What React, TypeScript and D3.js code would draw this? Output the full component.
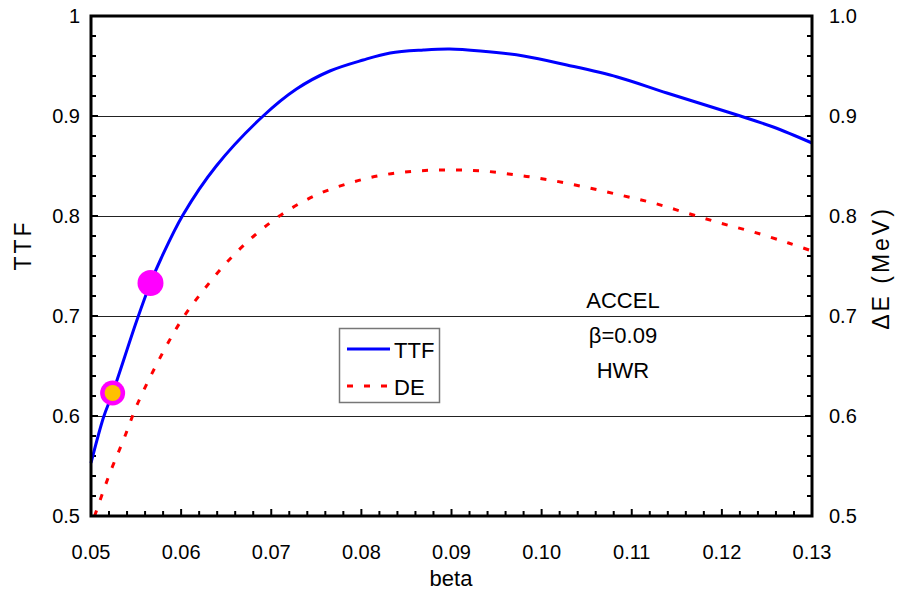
import React from "react";
import * as d3 from "d3";

const ttfBeta = [0.0500, 0.0514, 0.0524, 0.0551, 0.0566, 0.0578, 0.0602, 0.0639, 0.0691, 0.0728, 0.0765, 0.0802, 0.0832, 0.0869, 0.0898, 0.0932, 0.0980, 0.1028, 0.1084, 0.1139, 0.1217, 0.1257, 0.1300];
const ttfValues = [0.553, 0.599, 0.623, 0.696, 0.733, 0.758, 0.801, 0.850, 0.900, 0.927, 0.945, 0.956, 0.963, 0.966, 0.967, 0.965, 0.960, 0.951, 0.939, 0.923, 0.901, 0.889, 0.873];

const deBeta = [0.0504, 0.0521, 0.0536, 0.0552, 0.0580, 0.0602, 0.0625, 0.0651, 0.0682, 0.0714, 0.0750, 0.0787, 0.0824, 0.0861, 0.0898, 0.0935, 0.0972, 0.1009, 0.1048, 0.1087, 0.1124, 0.1161, 0.1198, 0.1235, 0.1274, 0.1300];
const deValues = [0.500, 0.543, 0.576, 0.613, 0.664, 0.698, 0.726, 0.754, 0.781, 0.803, 0.821, 0.833, 0.841, 0.845, 0.846, 0.845, 0.841, 0.836, 0.829, 0.821, 0.813, 0.803, 0.793, 0.784, 0.773, 0.765];

const markerBig = { beta: 0.0566, ttf: 0.733 };
const markerRing = { beta: 0.0524, ttf: 0.623 };

const xTickValues = [0.05, 0.06, 0.07, 0.08, 0.09, 0.10, 0.11, 0.12, 0.13];
const xTickLabels = ["0.05", "0.06", "0.07", "0.08", "0.09", "0.10", "0.11", "0.12", "0.13"];
const yTickValues = [0.5, 0.6, 0.7, 0.8, 0.9, 1.0];
const yLeftLabels = ["0.5", "0.6", "0.7", "0.8", "0.9", "1"];
const yRightLabels = ["0.5", "0.6", "0.7", "0.8", "0.9", "1.0"];
const gridValues = [0.6, 0.7, 0.8, 0.9];
const annotation = ["ACCEL", "β=0.09", "HWR"];

const W = 897, H = 595;
const L = 91, R = 812, T = 16, B = 516;
const FONT = "'Liberation Sans', Arial, sans-serif";

export default function App() {
  const x = d3.scaleLinear().domain([0.05, 0.13]).range([L, R]);
  const y = d3.scaleLinear().domain([0.5, 1.0]).range([B, T]);
  const yR = d3.scaleLinear().domain([0.5, 1.0]).range([B, T]);

  const line = d3.line<[number, number]>().x(d => x(d[0])).y(d => y(d[1])).curve(d3.curveCatmullRom.alpha(0.5));
  const ttfPath = line(ttfBeta.map((b, i) => [b, ttfValues[i]]) as [number, number][]) || "";
  const dePath = line(deBeta.map((b, i) => [b, deValues[i]]) as [number, number][]) || "";

  const xMinor = d3.range(0, 41).map(i => 0.05 + i * 0.002);
  const yMinor = d3.range(0, 26).map(i => 0.5 + i * 0.02);

  return (
    <svg width={W} height={H} style={{ position: "absolute", left: 0, top: 0, background: "#fff" }} fontFamily={FONT}>
      <rect x={0} y={0} width={W} height={H} fill="#fff" />
      {gridValues.map(v => (
        <line key={v} x1={L} x2={R} y1={y(v)} y2={y(v)} stroke="#222" strokeWidth={1} shapeRendering="crispEdges" />
      ))}
      {xMinor.map((v, i) => (
        <line key={"xm" + i} x1={x(v)} x2={x(v)} y1={B} y2={B - (i % 5 === 0 ? 7 : 5)} stroke="#000" strokeWidth={2} />
      ))}
      {yMinor.map((v, i) => (
        <g key={"ym" + i}>
          <line x1={L} x2={L + (i % 5 === 0 ? 7 : 5)} y1={y(v)} y2={y(v)} stroke="#000" strokeWidth={2} />
          <line x1={R} x2={R - (i % 5 === 0 ? 7 : 5)} y1={yR(v)} y2={yR(v)} stroke="#000" strokeWidth={2} />
        </g>
      ))}
      <path d={dePath} fill="none" stroke="#ff0000" strokeWidth={3} strokeDasharray="6,11" />
      <path d={ttfPath} fill="none" stroke="#0000ff" strokeWidth={3} />
      <circle cx={x(markerBig.beta)} cy={y(markerBig.ttf)} r={13} fill="#ff00ff" />
      <circle cx={x(markerRing.beta)} cy={y(markerRing.ttf)} r={12.5} fill="#ff00ff" />
      <circle cx={x(markerRing.beta)} cy={y(markerRing.ttf)} r={8} fill="#ffc000" />
      <rect x={L} y={T} width={R - L} height={B - T} fill="none" stroke="#000" strokeWidth={3} />
      {xTickValues.map((v, i) => (
        <text key={"xl" + i} x={x(v)} y={559} textAnchor="middle" fontSize={20} fill="#000">{xTickLabels[i]}</text>
      ))}
      {yTickValues.map((v, i) => (
        <text key={"yl" + i} x={80} y={y(v)} dy="0.35em" textAnchor="end" fontSize={20} fill="#000">{yLeftLabels[i]}</text>
      ))}
      {yTickValues.map((v, i) => (
        <text key={"yr" + i} x={829} y={yR(v)} dy="0.35em" textAnchor="start" fontSize={20} fill="#000">{yRightLabels[i]}</text>
      ))}
      <text x={451} y={586} textAnchor="middle" fontSize={22} fill="#000">beta</text>
      <text transform={`translate(31,245) rotate(-90)`} textAnchor="middle" fontSize={23} letterSpacing={3} fill="#000">TTF</text>
      <text transform={`translate(889,268) rotate(-90)`} textAnchor="middle" fontSize={23} letterSpacing={3} fill="#000">ΔE (MeV)</text>
      {annotation.map((t, i) => (
        <text key={"an" + i} x={623} y={308 + i * 35} textAnchor="middle" fontSize={22} fill="#000">{t}</text>
      ))}
      <g>
        <rect x={339.5} y={328.5} width={100} height={74} fill="#fff" stroke="#777" strokeWidth={1.5} />
        <line x1={347} x2={390} y1={349} y2={349} stroke="#0000ff" strokeWidth={3} />
        <text x={394} y={358} fontSize={22} fill="#000">TTF</text>
        <line x1={347} x2={390} y1={386} y2={386} stroke="#ff0000" strokeWidth={3} strokeDasharray="6,11" />
        <text x={394} y={395} fontSize={22} fill="#000">DE</text>
      </g>
    </svg>
  );
}
